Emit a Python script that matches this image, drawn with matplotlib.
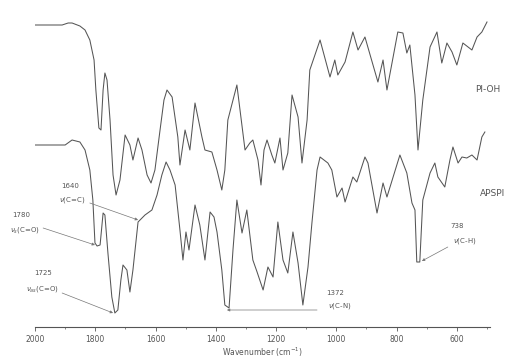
import numpy as np
import matplotlib.pyplot as plt

# -----------------------------
# FTIR data (wavenumber, transmittance a.u.)
# -----------------------------
pioh_wn = [2000, 1910, 1890, 1877, 1851, 1834, 1818, 1804, 1798, 1788, 1781, 1774, 1768, 1761,
           1751, 1741, 1731, 1718, 1701, 1685, 1675, 1658, 1645, 1628, 1615, 1602, 1585, 1572,
           1562, 1545, 1526, 1519, 1502, 1486, 1469, 1446, 1436, 1413, 1396, 1380, 1370, 1360,
           1330, 1303, 1287, 1277, 1260, 1250, 1240, 1230, 1214, 1204, 1187, 1177, 1161, 1147,
           1127, 1114, 1097, 1088, 1054, 1021, 1005, 995, 971, 945, 928, 905, 862, 845, 832,
           796, 779, 766, 756, 739, 729, 713, 689, 666, 650, 633, 616, 600, 580, 550, 533, 517, 500]
pioh_t = [302, 302, 304, 304, 301, 297, 287, 267, 237, 199, 197, 237, 254, 247,
          207, 152, 132, 147, 192, 182, 167, 189, 177, 152, 144, 157, 197, 227,
          237, 230, 190, 162, 197, 177, 224, 190, 177, 175, 157, 137, 157, 207,
          242, 177, 184, 187, 167, 142, 177, 187, 172, 164, 189, 157, 174, 232,
          210, 164, 207, 257, 287, 250, 267, 252, 265, 295, 277, 290, 245, 267, 237,
          295, 294, 274, 282, 232, 177, 227, 280, 295, 264, 284, 275, 262, 284, 277, 290, 295, 305]

apspi_wn = [2000, 1900, 1877, 1851, 1834, 1818, 1808, 1801, 1794, 1784, 1774, 1768, 1758, 1745,
            1735, 1725, 1715, 1708, 1695, 1685, 1675, 1658, 1635, 1612, 1595, 1579, 1565, 1552,
            1535, 1519, 1509, 1499, 1489, 1469, 1453, 1436, 1419, 1406, 1396, 1380, 1370, 1356,
            1343, 1330, 1313, 1297, 1277, 1263, 1243, 1227, 1210, 1194, 1177, 1161, 1144, 1127,
            1111, 1094, 1081, 1064, 1054, 1028, 1015, 998, 981, 971, 945, 932, 905, 895, 865,
            845, 832, 789, 766, 749, 739, 733, 723, 713, 689, 673, 663, 640, 623, 613, 596, 583,
            567, 550, 533, 517, 507]
apspi_t = [182, 182, 187, 185, 177, 157, 127, 84, 81, 82, 114, 112, 74, 30,
           14, 17, 47, 62, 57, 35, 57, 105, 112, 117, 132, 152, 165, 157,
           142, 97, 67, 95, 77, 122, 102, 67, 115, 110, 95, 57, 22, 19,
           77, 127, 94, 117, 67, 55, 37, 60, 50, 105, 67, 54, 95, 64,
           22, 60, 104, 157, 170, 164, 157, 130, 139, 125, 150, 145, 170, 164, 114,
           144, 130, 172, 154, 124, 117, 65, 65, 127, 154, 164, 150, 140, 167, 180, 164, 170,
           169, 172, 167, 190, 195]

# band labels
band_wn = [1780, 1725, 1640, 1372, 738]
band_top = ["1780", "1725", "1640", "1372", "738"]
band_bot = [r"$\nu_s$(C=O)", r"$\nu_{as}$(C=O)", r"$\nu$(C=C)", r"$\nu$(C-N)", r"$\nu$(C-H)"]
# text anchor (wn, t) and arrow tail / head, layout only
band_txt = [(2047, 112, 2035, 97), (1973, 54, 1977, 38), (1884, 141, 1877, 127),
            (1005, 34, 990, 21), (600, 101, 575, 86)]
band_arrow = [((1973, 99), (1801, 82)), ((1910, 34), (1741, 14)), ((1818, 124), (1658, 107)),
              ((1064, 17), (1363, 17)), ((630, 80), (716, 66))]

GRAY = "#555555"

fig = plt.figure(figsize=(5.17, 3.62), dpi=100)
ax = fig.add_axes([35 / 517, 35 / 362, 455 / 517, 317 / 362])

ax.plot(pioh_wn, pioh_t, color=GRAY, lw=0.75)
ax.plot(apspi_wn, apspi_t, color=GRAY, lw=0.75)

ax.set_xlim(2000, 490)
ax.set_ylim(0, 317)

for sp in ["top", "left", "right"]:
    ax.spines[sp].set_visible(False)
ax.spines["bottom"].set_color(GRAY)
ax.spines["bottom"].set_linewidth(0.8)
ax.set_yticks([])
ax.set_xticks(np.arange(2000, 599, -200))
ax.set_xticks(np.arange(1900, 499, -100), minor=True)
ax.tick_params(axis="x", which="major", length=3, width=0.6, color=GRAY, labelsize=5.5,
               labelcolor=GRAY, pad=3)
ax.tick_params(axis="x", which="minor", length=1.5, width=0.5, color=GRAY)
ax.set_xlabel("Wavenumber (cm$^{-1}$)", fontsize=5.5, color=GRAY, labelpad=1)

# series names
ax.text(497, 237, "PI-OH", fontsize=6.5, color=GRAY, ha="center", va="center", clip_on=False)
ax.text(482, 134, "APSPI", fontsize=6.5, color=GRAY, ha="center", va="center", clip_on=False)

# band annotations
for top, bot, (x1, y1, x2, y2), (tail, head) in zip(band_top, band_bot, band_txt, band_arrow):
    ax.text(x1, y1, top, fontsize=5, color=GRAY, ha="center", va="center", clip_on=False)
    ax.text(x2, y2, bot, fontsize=5, color=GRAY, ha="center", va="center", clip_on=False)
    ax.annotate("", xy=head, xytext=tail, annotation_clip=False,
                arrowprops=dict(arrowstyle="-|>", color="#777777", lw=0.5,
                                mutation_scale=4, shrinkA=0, shrinkB=0))

fig.savefig("out.png", dpi=100)
